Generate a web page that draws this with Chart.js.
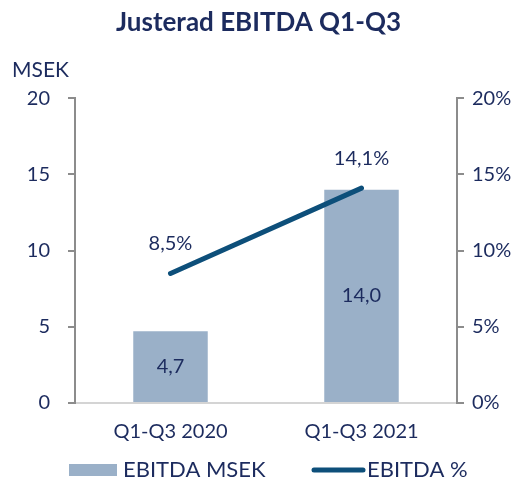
<!DOCTYPE html>
<html>
<head>
<meta charset="utf-8">
<script src="https://cdn.jsdelivr.net/npm/chart.js@4.4.0/dist/chart.umd.min.js"></script>
<style>
  html, body { margin: 0; padding: 0; background: #fff; }
  #wrap { width: 517px; height: 478px; }
</style>
</head>
<body>
<div id="wrap"><canvas id="ebitdaChart" width="517" height="478"></canvas></div>
<script>
// --- data ---
const categories = ['Q1-Q3 2020', 'Q1-Q3 2021'];
const ebitdaMsek = [4.7, 14.0];
const ebitdaPct = [8.5, 14.1];
const leftTicks = [0, 5, 10, 15, 20];
const rightTicks = [0, 5, 10, 15, 20];

const NAVY = '#1c2b5e';
const GREY = '#8c8c8c';
const BAR = '#9ab0c8';
const LINE = '#0d4f7a';
const FONT = 'Lato, "Open Sans", sans-serif';

const fmt = v => v.toFixed(1).replace('.', ',');

// value labels, the "MSEK" unit text and a hand-drawn legend
const labelPlugin = {
  id: 'valueLabels',
  afterDatasetsDraw(chart) {
    const ctx = chart.ctx;
    ctx.save();
    ctx.fillStyle = NAVY;
    ctx.font = '20px ' + FONT;
    ctx.textAlign = 'center';
    ctx.textBaseline = 'middle';

    chart.getDatasetMeta(0).data.forEach((bar, i) => {
      const mid = (bar.y + bar.base) / 2;
      ctx.fillText(fmt(ebitdaMsek[i]), bar.x, mid);
    });
    chart.getDatasetMeta(1).data.forEach((pt, i) => {
      ctx.fillText(fmt(ebitdaPct[i]) + '%', pt.x, pt.y - 30);
    });

    ctx.textAlign = 'left';
    ctx.font = '21px ' + FONT;
    ctx.fillText('MSEK', 12, 70);

    // legend
    const ds = chart.data.datasets;
    const ly = 470;
    ctx.font = '22px ' + FONT;
    ctx.fillStyle = ds[0].backgroundColor;
    ctx.fillRect(69, ly - 6, 48, 12);
    ctx.fillStyle = NAVY;
    ctx.fillText(ds[0].label, 123, ly);

    ctx.strokeStyle = ds[1].borderColor;
    ctx.lineWidth = ds[1].borderWidth;
    ctx.lineCap = 'round';
    ctx.beginPath();
    ctx.moveTo(314, ly);
    ctx.lineTo(363, ly);
    ctx.stroke();
    ctx.fillText(ds[1].label, 367, ly);
    ctx.restore();
  }
};

const canvas = document.getElementById('ebitdaChart');
new Chart(canvas.getContext('2d'), {
  type: 'bar',
  data: {
    labels: categories,
    datasets: [
      {
        label: 'EBITDA MSEK',
        data: ebitdaMsek,
        backgroundColor: BAR,
        yAxisID: 'y',
        order: 2,
        categoryPercentage: 1,
        barPercentage: 0.39
      },
      {
        type: 'line',
        label: 'EBITDA %',
        data: ebitdaPct,
        borderColor: LINE,
        backgroundColor: LINE,
        borderWidth: 5,
        borderCapStyle: 'round',
        pointRadius: 0,
        pointHoverRadius: 0,
        yAxisID: 'y1',
        order: 1
      }
    ]
  },
  options: {
    responsive: false,
    animation: false,
    layout: { padding: 0 },
    plugins: {
      title: {
        display: true,
        text: 'Justerad EBITDA Q1-Q3',
        color: NAVY,
        font: { family: FONT, size: 26, weight: 'bold' },
        padding: { top: 7, bottom: 60 }
      },
      legend: { display: false },
      tooltip: { enabled: false }
    },
    scales: {
      x: {
        grid: { display: false },
        border: { color: '#d4d4d4', width: 2 },
        afterFit: s => { s.height = 75; },
        ticks: { color: NAVY, font: { family: FONT, size: 20 }, padding: 9 }
      },
      y: {
        position: 'left',
        min: 0,
        max: 20,
        afterBuildTicks: s => { s.ticks = leftTicks.map(v => ({ value: v })); },
        afterFit: s => { s.width = 75; },
        grid: { drawOnChartArea: false, color: GREY, tickLength: 7, lineWidth: 2 },
        border: { color: GREY, width: 2 },
        ticks: { color: NAVY, font: { family: FONT, size: 20 }, padding: 18 }
      },
      y1: {
        position: 'right',
        min: 0,
        max: 20,
        afterBuildTicks: s => { s.ticks = rightTicks.map(v => ({ value: v })); },
        afterFit: s => { s.width = 60; },
        grid: { drawOnChartArea: false, color: GREY, tickLength: 7, lineWidth: 2 },
        border: { color: GREY, width: 2 },
        ticks: {
          color: NAVY,
          font: { family: FONT, size: 20 },
          padding: 8,
          callback: v => v + '%'
        }
      }
    }
  },
  plugins: [labelPlugin]
});
</script>
</body>
</html>
